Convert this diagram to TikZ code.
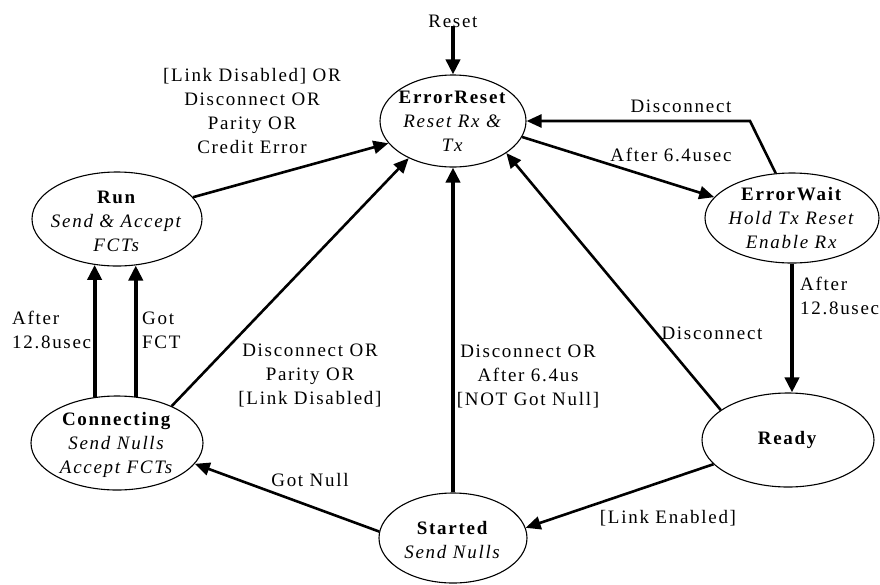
\documentclass[tikz,border=0pt]{standalone}
\usepackage{fontspec}
\setmainfont[LetterSpace=9]{Liberation Serif}
\usetikzlibrary{arrows.meta,shapes.geometric}

\begin{document}
\begin{tikzpicture}[x=1pt,y=-1pt,
  state/.style={ellipse, draw, line width=1.1pt, inner sep=0pt},
  txt/.style={font=\fontsize{19}{24}\selectfont, align=center, inner sep=0pt},
  edge/.style={line width=2.6pt, -{Triangle[length=15pt,width=13pt]}},
  heavy/.style={line width=3.8pt, -{Triangle[length=15pt,width=14pt]}}]
\useasboundingbox (0,0) rectangle (880,584);

% states
\node[state, minimum width=146pt, minimum height=92pt] (ErrorReset) at (453,121) {};
\node[txt] (ErrorResetText) at (ErrorReset) {\textbf{ErrorReset}\\\textit{Reset Rx \&}\\\textit{Tx}};

\node[state, minimum width=170pt, minimum height=94pt] (Run) at (117,219) {};
\node[txt] (RunText) at (117,221) {\textbf{Run}\\\textit{Send \& Accept}\\\textit{FCTs}};

\node[state, minimum width=174pt, minimum height=90pt] (ErrorWait) at (792,218) {};
\node[txt] (ErrorWaitText) at (ErrorWait) {\textbf{ErrorWait}\\\textit{Hold Tx Reset}\\\textit{Enable Rx}};

\node[state, minimum width=172pt, minimum height=94pt] (Connecting) at (117,443) {};
\node[txt] (ConnectingText) at (117,445) {\textbf{Connecting}\\\textit{Send Nulls}\\\textit{Accept FCTs}};

\node[state, minimum width=172pt, minimum height=94pt] (Ready) at (788,440) {};
\node[txt] (ReadyText) at (Ready) {\textbf{Ready}};

\node[state, minimum width=148pt, minimum height=90pt] (Started) at (453,538) {};
\node[txt] (StartedText) at (453,540) {\textbf{Started}\\\textit{Send Nulls}};

% reset entry
\node[txt] (ResetLbl) at (453,21) {Reset};
\draw[heavy] (ResetLbl.south) ++(0,2pt) coordinate (ResetStart) -- (ErrorReset.north);

% Run -> ErrorReset
\draw[edge] (Run.16) -- (ErrorReset.199);
\node[txt] (RunErrLbl) at (252,111) {{[Link Disabled] OR}\\Disconnect OR\\Parity OR\\Credit Error};

% ErrorReset -> ErrorWait
\draw[edge] (ErrorReset.-13) -- (ErrorWait.165);
\node[txt] (ErrWaitLbl) at (671,155) {After 6.4usec};

% ErrorWait -> ErrorReset
\coordinate (WaitCorner) at (750,121);
\draw[edge] (ErrorWait.110) -- (WaitCorner) -- (ErrorReset.east);
\node[txt] (WaitDiscLbl) at (681,106) {Disconnect};

% ErrorWait -> Ready
\draw[heavy] (ErrorWait.south) -- (ErrorWait.south |- Ready.north);
\node[txt, align=left, anchor=west] (WaitReadyLbl) at (800,296) {After\\12.8usec};

% Ready -> ErrorReset
\draw[edge] (Ready.156) -- (ErrorReset.-31.6);
\node[txt] (ReadyDiscLbl) at (712,333) {Disconnect};

% Ready -> Started
\draw[edge] (Ready.198) -- (Started.8);
\node[txt] (LinkEnLbl) at (668,518) {{[Link Enabled]}};

% Started -> ErrorReset
\draw[heavy] (Started.north) -- (ErrorReset.south);
\node[txt] (StartErrLbl) at (528,376) {Disconnect OR\\After 6.4us\\{[NOT Got Null]}};

% Started -> Connecting
\draw[edge] (Started.175) -- (Connecting.-15);
\node[txt] (GotNullLbl) at (310,480) {Got Null};

% Connecting -> ErrorReset
\draw[edge] (Connecting.34.6) -- (ErrorReset.220);
\node[txt] (ConnErrLbl) at (310,375) {Disconnect OR\\Parity OR\\{[Link Disabled]}};

% Connecting -> Run
\draw[heavy] (Connecting.116) -- (Connecting.116 |- Run.244);
\draw[heavy] (Connecting.68.6) -- (Connecting.68.6 |- Run.291.4);
\node[txt, align=left, anchor=west] (ConnRunLblA) at (12,330) {After\\12.8usec};
\node[txt, align=left, anchor=west] (ConnRunLblB) at (142,330) {Got\\FCT};
\end{tikzpicture}
\end{document}
